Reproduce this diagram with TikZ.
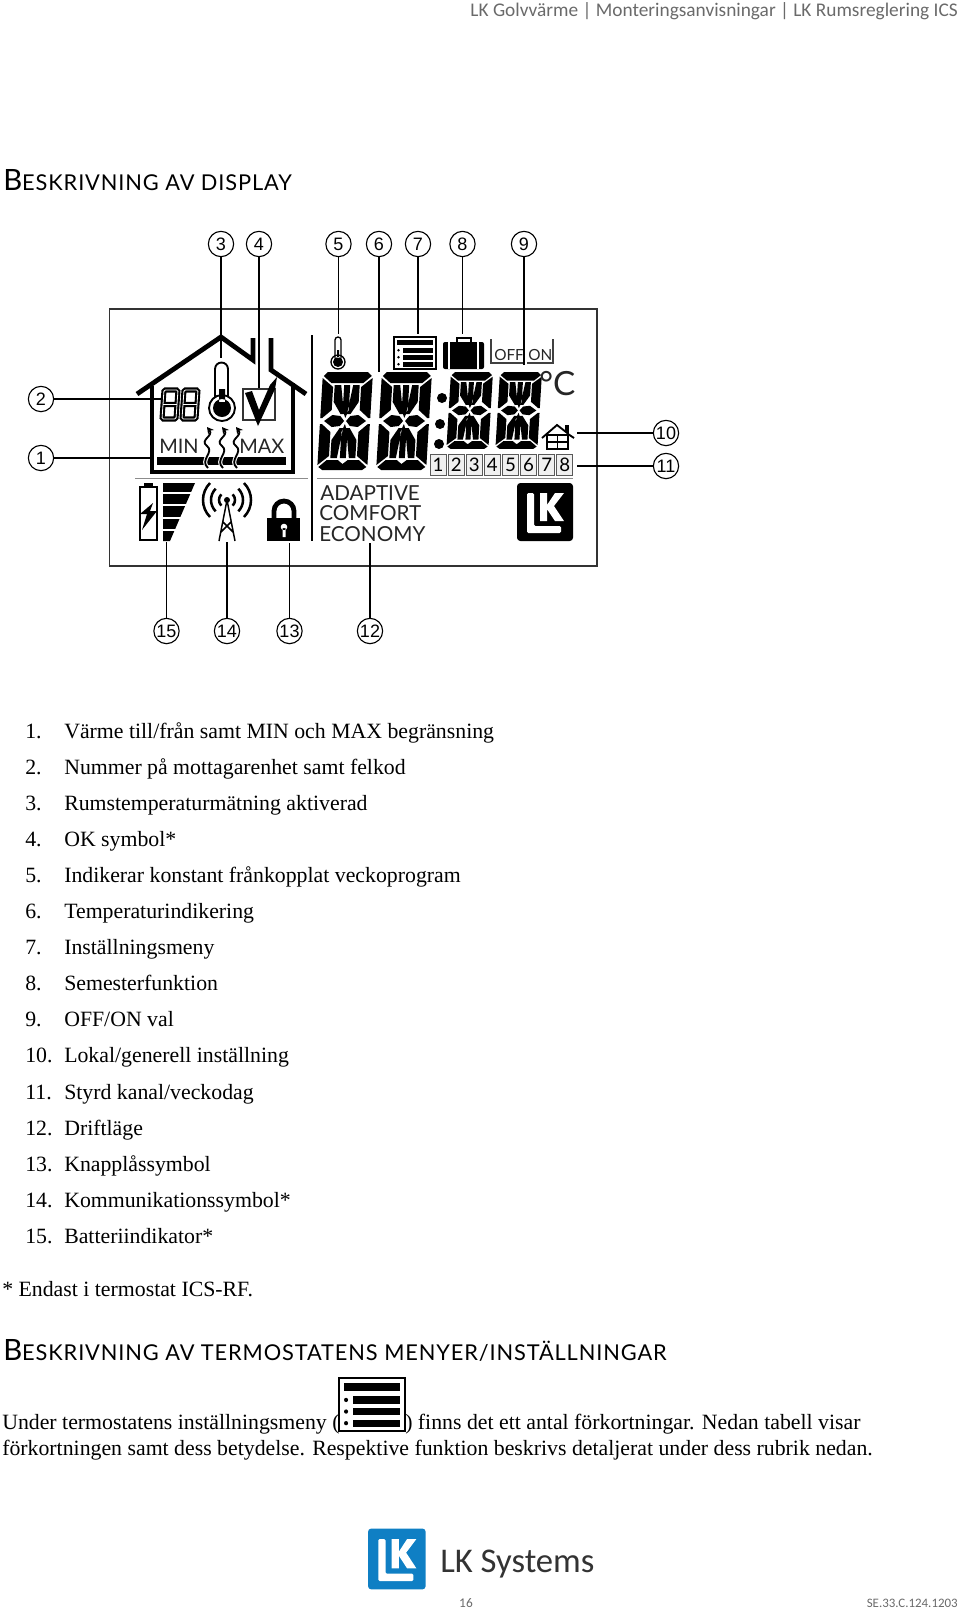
\documentclass[tikz,border=0pt]{standalone}
\usepackage{fontspec}
\setmainfont{Liberation Serif}
\newfontfamily\pagefont{Carlito}
\newfontfamily\headfont[LetterSpace=4]{Lato}
\newfontfamily\lcdfont{Lato}
\newfontfamily\callfont{Liberation Sans}
\usetikzlibrary{arrows.meta}
\definecolor{lkblue}{HTML}{0F7FC4}
\definecolor{headgray}{HTML}{6A6A6A}
\newcommand{\capshead}[2]{{\fontsize{22}{22}\selectfont #1}#2}
\tikzset{
  callout/.style={circle,draw,line width=.85pt,minimum size=19pt,inner sep=0pt,font=\callfont\fontsize{13.5}{13.5}\selectfont},
  callline/.style={line width=.8pt},
  listtext/.style={anchor=base west,inner sep=0pt,font=\fontsize{16.35}{16.35}\selectfont},
  headtext/.style={anchor=base west,inner sep=0pt,font=\headfont\fontsize{16.35}{16.35}\selectfont},
  lcdtext/.style={anchor=base west,inner sep=0pt,font=\lcdfont\fontsize{15}{15}\selectfont,text=black!85},
  daybox/.style={draw=black!65,fill=black!6,line width=.7pt,minimum width=12.2pt,minimum height=16pt,inner sep=0pt,font=\lcdfont\fontsize{14}{14}\selectfont},
  pics/lcddigit/.style={code={
    \fill (5,0)--(45,0)--(49,4)--(41,11)--(9,11)--(1,4)--cycle
      (0,6)--(11,15)--(11,38)--(2,46)--(0,46)--cycle
      (50,6)--(39,15)--(39,38)--(48,46)--(50,46)--cycle
      (0,52)--(2,52)--(11,60)--(11,84)--(0,93)--cycle
      (50,52)--(48,52)--(39,60)--(39,84)--(50,93)--cycle
      (1,95)--(9,88)--(20,88)--(25,92)--(30,88)--(41,88)--(49,95)--(45,98)--(5,98)--cycle
      (4,49)--(12,43)--(20,44)--(24,49)--(20,54)--(12,55)--cycle
      (46,49)--(38,43)--(30,44)--(26,49)--(30,54)--(38,55)--cycle
      (22,13)--(28,13)--(28,38)--(25,46)--(22,38)--cycle
      (22,60)--(25,52)--(28,60)--(28,86)--(22,86)--cycle
      (12.5,13)--(19,13)--(23.5,42)--(20,42)--(12.5,30)--cycle
      (37.5,13)--(31,13)--(26.5,42)--(30,42)--(37.5,30)--cycle
      (12.5,86)--(19,86)--(23.5,56)--(20,56)--(12.5,68)--cycle
      (37.5,86)--(31,86)--(26.5,56)--(30,56)--(37.5,68)--cycle;
  }},
  pics/menuicon/.style={code={
    \draw[line width=1.3pt] (0,0) rectangle (42,32);
    \fill (3,3) rectangle (39,8);
    \foreach \b in {11,18,25}{
      \fill (9,\b) rectangle (39,\b+4.5);
      \fill (4.5,\b+2.2) circle[radius=1.3];
    }
  }},
  pics/lklogo/.style={code={
    \fill[#1,rounded corners=2.5] (0,0) rectangle (56,58);
    \fill[white,rounded corners=1] (10,10) -- (17,10) -- (17,43) -- (44,43) -- (44,50) -- (10,50) -- cycle;
    \fill[white] (23,10) -- (30,10) -- (30,22) -- (38,10) -- (47,10) -- (37,23) -- (47,38) -- (38,38) -- (30,26) -- (30,38) -- (23,38) -- cycle;
  }}
}
\begin{document}
\begin{tikzpicture}[x=.75pt,y=-.75pt]
  \useasboundingbox (0,0) rectangle (960,1611);
  % page head
  \node[anchor=base east,inner sep=0pt,text=headgray,font=\pagefont\fontsize{14.5}{14.5}\selectfont] (pagehead) at (958,16) {LK Golvvärme | Monteringsanvisningar | LK Rumsreglering ICS};
  \node[headtext] (headdisplay) at (3,190) {\capshead{B}{ESKRIVNING AV DISPLAY}};

  % panel
  \draw[line width=1.1pt,black!80] (109.5,309) rectangle (597,566);
  \draw[line width=2pt] (312,335) -- (312,541);
  \draw[line width=.7pt,black!45] (135,478) -- (308,478) (317,478) -- (573,478);

  % house
  \draw[line width=3.6pt] (137,394) -- (221,337) -- (253,360) -- (253,338);
  \draw[line width=3.6pt] (271,338) -- (271,370) -- (306,394);
  \draw[line width=2.6pt] (152,386) -- (152,472) -- (293,472) -- (293,383);
  \fill (157,457) rectangle (286,465);
  \foreach \x in {162,182}{
    \draw[line width=1.6pt,double=white,double distance=.6pt,rounded corners=1pt] (\x+2,390) -- (\x+16,390) -- (\x+14,419) -- (\x,419) -- cycle (\x+1,404.5) -- (\x+15,404.5);
  }
  \draw[line width=1.4pt,fill=white] (215,408) -- (215,369) arc[start angle=180,end angle=360,radius=6.5] -- (228,408);
  \draw[line width=1.4pt,fill=white] (222,408) circle[radius=13];
  \fill (222,408) circle[radius=9] (219,389) rectangle (225,402);
  \draw[line width=1pt,black!80] (243,389) rectangle (275,420);
  \fill (245,393) -- (252,391) -- (259,410) -- (270,385) -- (277,377) -- (275,389) -- (258,426) -- cycle;
  \node[lcdtext] (tmin) at (159,453) {MIN};
  \node[lcdtext] (tmax) at (239,453) {MAX};
  \foreach \x in {207,222,236}{
    \draw[line width=1.4pt,-{Stealth[length=5pt,width=5.5pt]},preaction={draw,white,line width=3pt}] (\x+1,468) .. controls (\x-8,460) and (\x+8,452) .. (\x,446) .. controls (\x-8,440) and (\x+7,436) .. (\x,427);
  }

  % bottom left symbols
  \draw[line width=1.9pt] (140,487) rectangle (157,540);
  \fill (144,483) rectangle (153,487);
  \fill (153,503) -- (140,514) -- (147,514) -- (142,530) -- (157,511) -- (150,511) -- cycle;
  \fill (163,483) -- (195,483) -- (170,541) -- (163,541) -- cycle;
  \foreach \y in {493,505,518,530}{
    \draw[white,line width=.8pt] (163,\y) -- (197,\y);
  }
  \draw[line width=1.1pt] (227,500) -- (219,541) (227,500) -- (235,541) (223,522) -- (233,532) (231,522) -- (221,532);
  \fill (227,500) circle[radius=3];
  \foreach \r in {8,16,24}{
    \draw[line width=1.9pt] (227,500)++(-45:\r) arc[start angle=-45,end angle=45,radius=\r];
    \draw[line width=1.9pt] (227,500)++(135:\r) arc[start angle=135,end angle=225,radius=\r];
  }
  \fill (267,518) rectangle (300,541);
  \draw[line width=3.6pt] (274,519) -- (274,511) arc[start angle=180,end angle=360,radius=10] -- (294,519);
  \fill[white] (284,527) circle[radius=3.3] (282.5,528) rectangle (285.5,537);

  % digits
  \pic[xslant=.06] at (323,372) {lcddigit};
  \pic[xslant=.06] at (382,372) {lcddigit};
  \pic[xslant=.06,xscale=.84,yscale=.785] at (451,372) {lcddigit};
  \pic[xslant=.06,xscale=.84,yscale=.785] at (500,372) {lcddigit};
  \fill (442,398) circle[radius=5] (440,424) circle[radius=5] (439,444) circle[radius=5];

  % top right symbols
  \draw[line width=1pt,fill=white] (335,358) -- (335,340) arc[start angle=180,end angle=360,radius=3] -- (341,358);
  \draw[line width=1pt] (338,362) circle[radius=7];
  \fill (338,362) circle[radius=5] (337,350) rectangle (339,358);
  \pic at (394,337) {menuicon};
  \fill[rounded corners=1.5] (443,342) rectangle (484,369);
  \draw[white,line width=.8pt] (449,342) -- (449,369) (478,342) -- (478,369);
  \draw[line width=1.1pt] (457,342) -- (457,338) -- (471,338) -- (471,342);
  \draw[line width=.9pt,black!75] (491,339) -- (491,363) -- (523,363) (527,363) -- (553,363) -- (553,339);
  \node[lcdtext,font=\lcdfont\fontsize{11.5}{11.5}\selectfont] (toff) at (494,360) {OFF};
  \node[lcdtext,font=\lcdfont\fontsize{11.5}{11.5}\selectfont] (ton) at (528,360) {ON};
  \node[lcdtext,font=\lcdfont\fontsize{25}{25}\selectfont] (tdeg) at (539,395) {°C};
  \draw[line width=1.4pt] (542,438) -- (557,425) -- (566,432) -- (566,426) -- (568,426) -- (568,434) -- (574,438);
  \draw[line width=1.4pt] (547,435) rectangle (568,449) (557.5,435) -- (557.5,449) (547,442) -- (568,442);
  \foreach \d in {1,...,8}{
    \node[daybox] (day\d) at ({420+18.1*\d},465) {\d};
  }

  % mode text and logo
  \node[lcdtext,font=\lcdfont\fontsize{15.5}{15.5}\selectfont] (tadaptive) at (320,500) {ADAPTIVE};
  \node[lcdtext,font=\lcdfont\fontsize{15.5}{15.5}\selectfont] (tcomfort) at (319,520.5) {COMFORT};
  \node[lcdtext,font=\lcdfont\fontsize{15.5}{15.5}\selectfont] (teconomy) at (319,541) {ECONOMY};
  \pic at (517,483) {lklogo=black};

  % callouts
  \foreach \n/\x/\y/\tx/\ty in {1/41/458/150/458,2/41/399/163/399,3/221/244/221/358,4/259/244/259/388,
    5/338.5/244/338.5/334,6/379/244/379/372,7/418/244/418/334,8/462.5/244/462.5/334,9/524/244/524/365,
    10/666/433/577/433,11/666/466/577/466,12/370/631/370/543,13/289.5/631/289.5/543,14/227/631/227/542,15/166.5/631/166.5/542}{
    \node[callout] (c\n) at (\x,\y) {\n};
    \coordinate (t\n) at (\tx,\ty);
    \draw[callline] (c\n) -- (t\n);
  }

  % list
  \foreach \n/\t in {1/{Värme till/från samt MIN och MAX begränsning},2/{Nummer på mottagarenhet samt felkod},
    3/{Rumstemperaturmätning aktiverad},4/{OK symbol*},5/{Indikerar konstant frånkopplat veckoprogram},
    6/{Temperaturindikering},7/{Inställningsmeny},8/{Semesterfunktion},9/{OFF/ON val},
    10/{Lokal/generell inställning},11/{Styrd kanal/veckodag},12/{Driftläge},13/{Knapplåssymbol},
    14/{Kommunikationssymbol*},15/{Batteriindikator*}}{
    \pgfmathsetmacro{\rowy}{738+36.1*(\n-1)}
    \node[listtext] (num\n) at (25,\rowy) {\n.};
    \node[listtext] (item\n) at (64,\rowy) {\t};
  }
  \node[listtext] (note) at (2,1296) {* Endast i termostat ICS-RF.};

  % second section
  \node[headtext] (headmenu) at (3,1360) {\capshead{B}{ESKRIVNING AV TERMOSTATENS MENYER/INSTÄLLNINGAR}};
  \node[listtext] (para1) at (2,1429) {Under termostatens inställningsmeny (};
  \pic[xscale=1.57,yscale=1.66] at (339,1378) {menuicon};
  \node[listtext] (para2) at (405,1429) {) finns det ett antal förkortningar. Nedan tabell visar};
  \node[listtext] (para3) at (2,1455) {förkortningen samt dess betydelse. Respektive funktion beskrivs detaljerat under dess rubrik nedan.};

  % foot
  \pic[xscale=1.03,yscale=1.05] at (368,1528.5) {lklogo=lkblue};
  \node[anchor=base west,inner sep=0pt,text=black!80,font=\pagefont\fontsize{26}{26}\selectfont] (brand) at (440,1572) {LK Systems};
  \node[inner sep=0pt,text=headgray,font=\pagefont\fontsize{10}{10}\selectfont] (pagenum) at (466,1603) {16};
  \node[anchor=east,inner sep=0pt,text=headgray,font=\pagefont\fontsize{9.7}{9.7}\selectfont] (docref) at (958,1603) {SE.33.C.124.1203};
\end{tikzpicture}
\end{document}
